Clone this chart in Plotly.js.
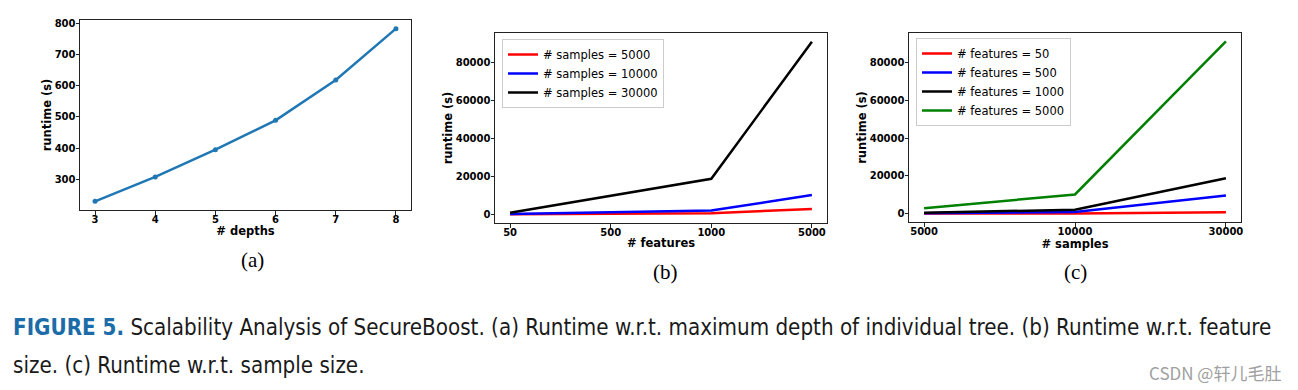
<!DOCTYPE html>
<html>
<head>
<meta charset="utf-8">
<script src="https://cdn.plot.ly/plotly-3.0.1.min.js"></script>
<style>html,body{margin:0;padding:0;background:#fff;}#chart{width:1298px;height:390px;}</style>
</head>
<body>
<div id="chart"></div>
<script>
// ---- data ----
const depths = [3, 4, 5, 6, 7, 8];
const depthRuntime = [230, 308, 395, 489, 618, 782];

const featureLabels = ['50', '500', '1000', '5000'];
const sampleLabels = ['5000', '10000', '30000'];

// runtime (s) for each sample size, across featureLabels
const runtimeSamples5000 = [100, 300, 600, 2900];
const runtimeSamples10000 = [200, 1000, 2100, 10200];
const runtimeSamples30000 = [850, 9700, 18800, 91000];

const sampleSeriesNames = ['# samples = 5000', '# samples = 10000', '# samples = 30000'];
const featureSeriesNames = ['# features = 50', '# features = 500', '# features = 1000', '# features = 5000'];

const captionLine1 = '<b><span style="color:#1b6ca8">FIGURE 5.</span></b> Scalability Analysis of SecureBoost. (a) Runtime w.r.t. maximum depth of individual tree. (b) Runtime w.r.t. feature';
const captionLine2 = 'size. (c) Runtime w.r.t. sample size.';
const watermark = 'CSDN @轩儿毛肚';

// ---- styling ----
const W = 1298, H = 390;
const px = v => v / W;
const py = v => 1 - v / H;
const tickFont = {family: 'DejaVu Sans', size: 10, color: '#000', weight: 'bold'};
const titleFont = {family: 'DejaVu Sans', size: 11.5, color: '#000', weight: 'bold'};
const legendFont = {family: 'DejaVu Sans', size: 11.5, color: '#000'};
const captionFont = {family: 'Liberation Sans Narrow, DejaVu Sans Condensed, sans-serif', size: 22.2, color: '#1a1a1a'};
const bySamples = [runtimeSamples5000, runtimeSamples10000, runtimeSamples30000];
const sampleColors = ['#ff0000', '#0000ff', '#000000'];
const featureColors = ['#ff0000', '#0000ff', '#000000', '#008000'];

function axisBase(extra) {
  return Object.assign({
    showline: true, mirror: true, linecolor: '#222', linewidth: 1,
    ticks: 'outside', ticklen: 3.5, tickwidth: 1, tickcolor: '#222',
    showgrid: false, zeroline: false, tickfont: tickFont, fixedrange: true
  }, extra);
}
const xAxisBase = extra => axisBase(Object.assign({ticklabelstandoff: -4}, extra));
const yAxisBase = extra => axisBase(Object.assign({ticklabelstandoff: -2}, extra));

const traces = [];
traces.push({
  x: depths, y: depthRuntime, type: 'scatter', mode: 'lines+markers',
  line: {color: '#1f77b4', width: 2.5}, marker: {color: '#1f77b4', size: 5},
  xaxis: 'x', yaxis: 'y', showlegend: false
});
bySamples.forEach((vals, i) => {
  traces.push({
    x: featureLabels, y: vals, type: 'scatter', mode: 'lines',
    name: sampleSeriesNames[i], line: {color: sampleColors[i], width: 2.5},
    xaxis: 'x2', yaxis: 'y2', legend: 'legend2'
  });
});
featureLabels.forEach((f, j) => {
  traces.push({
    x: sampleLabels, y: bySamples.map(s => s[j]), type: 'scatter', mode: 'lines',
    name: featureSeriesNames[j], line: {color: featureColors[j], width: 2.5},
    xaxis: 'x3', yaxis: 'y3', legend: 'legend3'
  });
});

const legendBase = {
  bgcolor: 'rgba(255,255,255,0.9)', bordercolor: '#cccccc', borderwidth: 1,
  font: legendFont, xanchor: 'left', yanchor: 'top', tracegroupgap: 0
};

const layout = {
  width: W, height: H,
  margin: {l: 0, r: 0, t: 0, b: 0},
  paper_bgcolor: '#fff', plot_bgcolor: '#fff',
  showlegend: true,
  xaxis: xAxisBase({domain: [px(80), px(411)], range: [2.75, 8.25], tickvals: depths,
    title: {text: '# depths', font: titleFont, standoff: 1}, anchor: 'y'}),
  yaxis: yAxisBase({domain: [py(210), py(20)], range: [202.4, 809.6], dtick: 100, tick0: 0,
    title: {text: 'runtime (s)', font: titleFont, standoff: 0}, anchor: 'x'}),
  xaxis2: xAxisBase({domain: [px(495), px(827)], type: 'category', range: [-0.15, 3.15],
    categoryorder: 'array', categoryarray: featureLabels,
    title: {text: '# features', font: titleFont, standoff: 2}, anchor: 'y2'}),
  yaxis2: yAxisBase({domain: [py(223), py(33)], range: [-4500, 95600], dtick: 20000, tick0: 0,
    tickformat: 'd', title: {text: 'runtime (s)', font: titleFont, standoff: 0}, anchor: 'x2'}),
  xaxis3: xAxisBase({domain: [px(909), px(1241)], type: 'category', range: [-0.1, 2.1],
    categoryorder: 'array', categoryarray: sampleLabels,
    title: {text: '# samples', font: titleFont, standoff: 2}, anchor: 'y3'}),
  yaxis3: yAxisBase({domain: [py(222.3), py(32.7)], range: [-4500, 95600], dtick: 20000, tick0: 0,
    tickformat: 'd', title: {text: 'runtime (s)', font: titleFont, standoff: 0}, anchor: 'x3'}),
  legend2: Object.assign({x: px(502), y: py(39)}, legendBase),
  legend3: Object.assign({x: px(916), y: py(38)}, legendBase),
  annotations: [
    {text: '(a)', x: px(252), y: py(260), xref: 'paper', yref: 'paper', showarrow: false,
      xanchor: 'center', yanchor: 'middle', font: {family: 'Liberation Serif', size: 21, color: '#000'}},
    {text: '(b)', x: px(665), y: py(272), xref: 'paper', yref: 'paper', showarrow: false,
      xanchor: 'center', yanchor: 'middle', font: {family: 'Liberation Serif', size: 21, color: '#000'}},
    {text: '(c)', x: px(1075), y: py(272), xref: 'paper', yref: 'paper', showarrow: false,
      xanchor: 'center', yanchor: 'middle', font: {family: 'Liberation Serif', size: 21, color: '#000'}},
    {text: captionLine1, x: px(11), y: py(327), xref: 'paper', yref: 'paper', showarrow: false,
      xanchor: 'left', yanchor: 'middle', font: captionFont},
    {text: captionLine2, x: px(11), y: py(365), xref: 'paper', yref: 'paper', showarrow: false,
      xanchor: 'left', yanchor: 'middle', font: captionFont},
    {text: watermark, x: px(1283), y: py(372), xref: 'paper', yref: 'paper', showarrow: false,
      xanchor: 'right', yanchor: 'middle', font: {family: 'Noto Sans CJK SC', size: 17, color: '#a0a0a0'}}
  ]
};

Plotly.newPlot('chart', traces, layout, {staticPlot: true, displayModeBar: false});
</script>
</body>
</html>
